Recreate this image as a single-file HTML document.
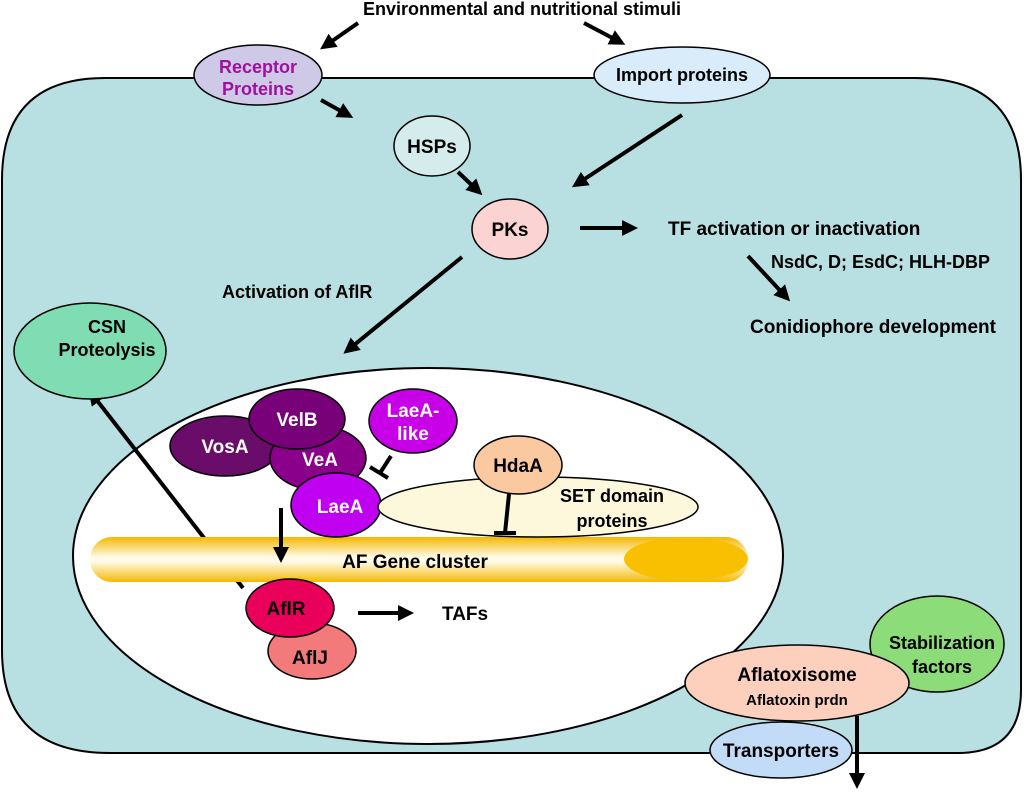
<!DOCTYPE html>
<html><head><meta charset="utf-8"><style>
html,body{margin:0;padding:0;background:#fff;}
svg{display:block;}
text{font-family:"Liberation Sans",sans-serif;font-weight:bold;}
</style></head><body>
<svg width="1024" height="792" viewBox="0 0 1024 792" xmlns="http://www.w3.org/2000/svg">
<defs>
<marker id="ah" markerWidth="4" markerHeight="4" refX="2.5" refY="2" orient="auto" markerUnits="strokeWidth">
<path d="M0,0 L4,2 L0,4 z" fill="#000"/></marker>
<linearGradient id="gene" x1="0" y1="0" x2="0" y2="1">
<stop offset="0" stop-color="#f5b800"/><stop offset="0.45" stop-color="#fffbe8"/><stop offset="0.55" stop-color="#fffbe8"/><stop offset="1" stop-color="#f5b800"/></linearGradient>
</defs>
<rect x="0" y="0" width="1024" height="792" fill="#fff"/>
<path d="M105,78 L915,78 Q1021,78 1021,180 L1021,690 Q1021,753 958,753 L110,753 Q2,753 2,650 L2,180 Q2,78 105,78 Z" fill="#b8e0e2" stroke="#000" stroke-width="2"/>
<ellipse cx="428" cy="556" rx="355" ry="188" fill="#fff" stroke="#000" stroke-width="2"/>
<text x="522" y="15" font-size="18" text-anchor="middle">Environmental and nutritional stimuli</text>
<g stroke="#000" stroke-width="4" fill="none" marker-end="url(#ah)">
<line x1="358" y1="23" x2="325" y2="46"/>
<line x1="584" y1="23" x2="620" y2="42"/>
<line x1="321" y1="100" x2="348" y2="115"/>
<line x1="458" y1="172" x2="478" y2="191"/>
<line x1="682" y1="115" x2="577" y2="184"/>
<line x1="580" y1="228" x2="632" y2="228"/>
<line x1="748" y1="256" x2="786" y2="297"/>
<line x1="462" y1="257" x2="348" y2="350"/>
<line x1="243" y1="588" x2="92" y2="394"/>
<line x1="358" y1="613" x2="408" y2="613"/>
</g>
<ellipse cx="258" cy="75" rx="64" ry="30" fill="#cdc9e6" stroke="#000" stroke-width="1.5"/>
<text x="258" y="73" font-size="18" text-anchor="middle" fill="#a010a0">Receptor</text>
<text x="258" y="95" font-size="18" text-anchor="middle" fill="#a010a0">Proteins</text>
<ellipse cx="682" cy="75" rx="88" ry="28" fill="#d8ecfa" stroke="#000" stroke-width="1.5"/>
<text x="682" y="81" font-size="18" text-anchor="middle">Import proteins</text>
<ellipse cx="432" cy="146" rx="38" ry="30" fill="#d4ecec" stroke="#000" stroke-width="1.5"/>
<text x="432" y="153" font-size="19" text-anchor="middle">HSPs</text>
<ellipse cx="510" cy="229" rx="38" ry="30" fill="#fbd3d3" stroke="#000" stroke-width="1.5"/>
<text x="510" y="236" font-size="19" text-anchor="middle">PKs</text>
<text x="668" y="235" font-size="19">TF activation or inactivation</text>
<text x="771" y="268" font-size="18">NsdC, D; EsdC; HLH-DBP</text>
<text x="750" y="333" font-size="19">Conidiophore development</text>
<text x="222" y="298" font-size="18">Activation of AflR</text>
<ellipse cx="90" cy="351" rx="76" ry="48" fill="#80dcb2" stroke="#000" stroke-width="1.5"/>
<text x="107" y="333" font-size="18" text-anchor="middle">CSN</text>
<text x="107" y="356" font-size="18" text-anchor="middle">Proteolysis</text>
<rect x="90" y="537" width="658" height="45" rx="22" fill="url(#gene)"/>
<ellipse cx="686" cy="559" rx="62" ry="22" fill="#f8c000"/>
<text x="415" y="568" font-size="19" text-anchor="middle">AF Gene cluster</text>
<line x1="281" y1="508" x2="281" y2="557" stroke="#000" stroke-width="4" marker-end="url(#ah)"/>
<ellipse cx="225" cy="446" rx="55" ry="30" fill="#6a0c6a" stroke="#000" stroke-width="1.5"/>
<ellipse cx="318" cy="458" rx="48" ry="32" fill="#8a008a" stroke="#000" stroke-width="1.5"/>
<ellipse cx="297" cy="419" rx="48" ry="30" fill="#780078" stroke="#000" stroke-width="1.5"/>
<text x="225" y="453" font-size="19" text-anchor="middle" fill="#fff">VosA</text>
<text x="297" y="426" font-size="19" text-anchor="middle" fill="#fff">VelB</text>
<text x="320" y="466" font-size="19" text-anchor="middle" fill="#fff">VeA</text>
<ellipse cx="336" cy="505" rx="45" ry="32" fill="#c000f0" stroke="#000" stroke-width="1.5"/>
<text x="340" y="513" font-size="19" text-anchor="middle" fill="#fff">LaeA</text>
<ellipse cx="538" cy="507" rx="160" ry="30" fill="#fdf8dc" stroke="#000" stroke-width="1.5"/>
<text x="612" y="502" font-size="18" text-anchor="middle">SET domain</text>
<text x="612" y="527" font-size="18" text-anchor="middle">proteins</text>
<ellipse cx="413" cy="421" rx="44" ry="32" fill="#c800e8" stroke="#000" stroke-width="1.5"/>
<text x="413" y="417" font-size="19" text-anchor="middle" fill="#fff">LaeA-</text>
<text x="413" y="440" font-size="19" text-anchor="middle" fill="#fff">like</text>
<g stroke="#000" stroke-width="4"><line x1="391" y1="456" x2="380" y2="473"/><line x1="370" y1="467" x2="388" y2="478"/></g>
<ellipse cx="518" cy="465" rx="44" ry="29" fill="#fbc9a0" stroke="#000" stroke-width="1.5"/>
<text x="518" y="472" font-size="19" text-anchor="middle">HdaA</text>
<g stroke="#000" stroke-width="4"><line x1="509" y1="494" x2="505" y2="533"/><line x1="494" y1="533" x2="516" y2="533"/></g>
<ellipse cx="312" cy="651" rx="44" ry="28" fill="#f27a7a" stroke="#000" stroke-width="1.5"/>
<text x="310" y="664" font-size="19" text-anchor="middle">AflJ</text>
<ellipse cx="290" cy="608" rx="44" ry="29" fill="#e8005a" stroke="#000" stroke-width="1.5"/>
<text x="286" y="615" font-size="19" text-anchor="middle">AflR</text>
<text x="442" y="620" font-size="19">TAFs</text>
<ellipse cx="937" cy="644" rx="67" ry="48" fill="#8cdc7a" stroke="#000" stroke-width="1.5"/>
<text x="942" y="649" font-size="18" text-anchor="middle">Stabilization</text>
<text x="942" y="673" font-size="18" text-anchor="middle">factors</text>
<ellipse cx="797" cy="683" rx="112" ry="38" fill="#fcd0bc" stroke="#000" stroke-width="1.5"/>
<text x="797" y="681" font-size="19" text-anchor="middle">Aflatoxisome</text>
<text x="797" y="705" font-size="15" text-anchor="middle">Aflatoxin prdn</text>
<ellipse cx="781" cy="750" rx="71" ry="28" fill="#c2dcf8" stroke="#000" stroke-width="1.5"/>
<text x="781" y="757" font-size="19" text-anchor="middle">Transporters</text>
<line x1="857" y1="716" x2="857" y2="783" stroke="#000" stroke-width="4" marker-end="url(#ah)"/>
</svg>
</body></html>
